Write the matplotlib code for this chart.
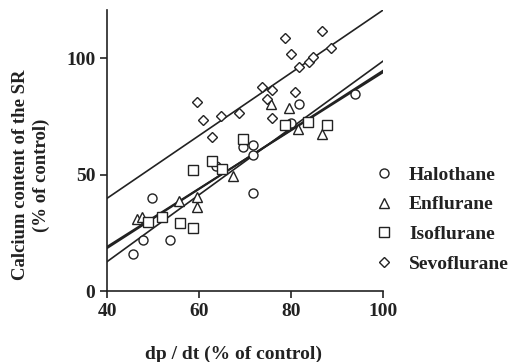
import matplotlib
matplotlib.use("Agg")
import matplotlib.pyplot as plt
import numpy as np

# Data
halo_x = [45.7, 47.9, 49.7, 53.7, 63.8, 69.6, 71.8, 71.8, 71.8, 79.9, 81.8, 93.9]
halo_y = [15.8, 21.9, 39.8, 21.9, 53.6, 61.9, 62.9, 58.4, 42.2, 72.2, 80.3, 84.4]
enfl_x = [46.6, 47.6, 55.7, 59.6, 59.6, 67.5, 75.6, 79.6, 81.6, 86.7]
enfl_y = [31.0, 31.6, 38.8, 40.2, 36.2, 49.4, 80.3, 78.7, 69.5, 67.4]
iso_x = [49.0, 51.9, 55.9, 58.8, 58.8, 62.9, 64.9, 69.6, 78.7, 83.8, 87.8]
iso_y = [29.8, 31.6, 29.0, 26.9, 51.9, 55.9, 52.6, 65.1, 71.2, 72.4, 71.5]
sevo_x = [59.6, 60.8, 62.8, 64.7, 68.8, 73.8, 74.7, 75.8, 75.8, 78.8, 79.9, 80.9, 81.8, 84.0, 84.8, 86.8, 88.8]
sevo_y = [81.0, 73.4, 66.2, 75.1, 76.3, 87.4, 82.3, 86.3, 74.1, 108.7, 101.7, 85.3, 96.3, 98.4, 100.6, 111.6, 104.4]

# Regression lines: values at x=40 and x=100
line_x = [40, 100]
halo_line = [12.6, 98.7]
enfl_line = [19.0, 93.9]
iso_line = [18.4, 94.6]
sevo_line = [39.8, 120.6]

names = ["Halothane", "Enflurane", "Isoflurane", "Sevoflurane"]
markers = ["o", "^", "s", "D"]

serif = ["Liberation Serif", "DejaVu Serif"]
plt.rcParams["font.family"] = serif
plt.rcParams["font.weight"] = "bold"

fig = plt.figure(figsize=(5.12, 3.62), dpi=100)
ax = fig.add_axes([0.209, 0.196, 0.539, 0.776])

ax.plot(line_x, halo_line, color="#222222", lw=1.2, zorder=1)
ax.plot(line_x, enfl_line, color="#222222", lw=1.4, zorder=1)
ax.plot(line_x, iso_line, color="#222222", lw=1.4, zorder=1)
ax.plot(line_x, sevo_line, color="#222222", lw=1.2, zorder=1)

sizes = [6.5, 6.5, 6.5, 4.6]
for xs, ys, m, ms, n in zip([halo_x, enfl_x, iso_x, sevo_x],
                          [halo_y, enfl_y, iso_y, sevo_y], markers, sizes, names):
    ax.plot(xs, ys, linestyle="none", marker=m, markersize=ms,
            markerfacecolor="white", markeredgecolor="#222222",
            markeredgewidth=1.0, label=n, zorder=3)

ax.set_xlim(40, 100)
ax.set_ylim(0, 120.6)
ax.set_xticks([40, 60, 80, 100])
ax.set_yticks([0, 50, 100])
for s in ["top", "right"]:
    ax.spines[s].set_visible(False)
for s in ["left", "bottom"]:
    ax.spines[s].set_linewidth(1.2)
    ax.spines[s].set_color("#222222")
ax.tick_params(direction="out", length=5, width=1.2, labelsize=14, colors="#222222")
for lab in ax.get_xticklabels() + ax.get_yticklabels():
    lab.set_fontweight("bold")

leg = ax.legend(loc="center left", bbox_to_anchor=(0.975, 0.255), frameon=False,
                prop={"family": serif, "weight": "bold", "size": 14},
                handletextpad=0.9, labelspacing=0.62, handlelength=0.8,
                borderaxespad=0.0, borderpad=0.0)
for t in leg.get_texts():
    t.set_color("#222222")

fig.text(0.457, 0.022, "dp / dt (% of control)", ha="center", va="center",
         fontsize=14, fontweight="bold", color="#222222")
fig.text(0.06, 0.517, "Calcium content of the SR\n(% of control)", ha="center",
         va="center", rotation=90, fontsize=13.5, fontweight="bold",
         color="#222222", linespacing=1.3)

fig.savefig("out.png", dpi=100)
